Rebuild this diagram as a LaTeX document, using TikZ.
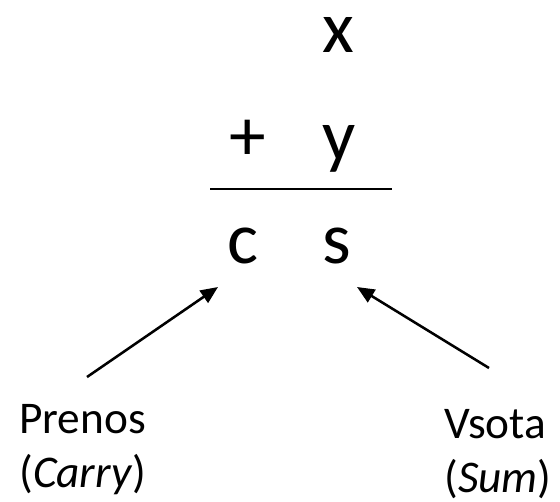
\documentclass[tikz,border=0pt]{standalone}
\usepackage{fontspec}
\setmainfont{Carlito}
\usetikzlibrary{arrows.meta}

\begin{document}
\begin{tikzpicture}[x=0.75pt,y=-0.75pt]
	\newcommand\bigsize{\fontsize{55}{60}\selectfont};
	\newcommand\labelsize{\fontsize{34}{40.5}\selectfont};
	\tikzset{
		digit/.style={inner sep=0pt,anchor=base,font=\bigsize},
		label/.style={inner sep=0pt,anchor=base west,font=\labelsize},
		pointer/.style={line width=1.9pt,-{Triangle[length=13pt,width=11pt]}}
	}

	\useasboundingbox (0,0) rectangle (560,501);

	% the sum
	\node[digit] (x) at (338,52) {x};
	\node[digit] (plus) at (248,160) {+};
	\node[digit] (y) at (339,160) {y};
	\draw[line width=1.8pt] (210,189) -- (392,189);
	\node[digit] (c) at (243,263) {c};
	\node[digit] (s) at (337,263) {s};

	% labels
	\node[label] (prenos) at (19,433) {Prenos};
	\node[label] (carry) at (19,487) {(\textit{Carry})};
	\node[label] (vsota) at (444,438) {Vsota};
	\node[label] (sum) at (444,492) {(\textit{Sum})};

	\coordinate (carrytail) at (87,377);
	\coordinate (carrytip) at (218,287);
	\coordinate (sumtail) at (489,368);
	\coordinate (sumtip) at (357,287);

	\draw[pointer] (carrytail) -- (carrytip);
	\draw[pointer] (sumtail) -- (sumtip);
\end{tikzpicture}
\end{document}
